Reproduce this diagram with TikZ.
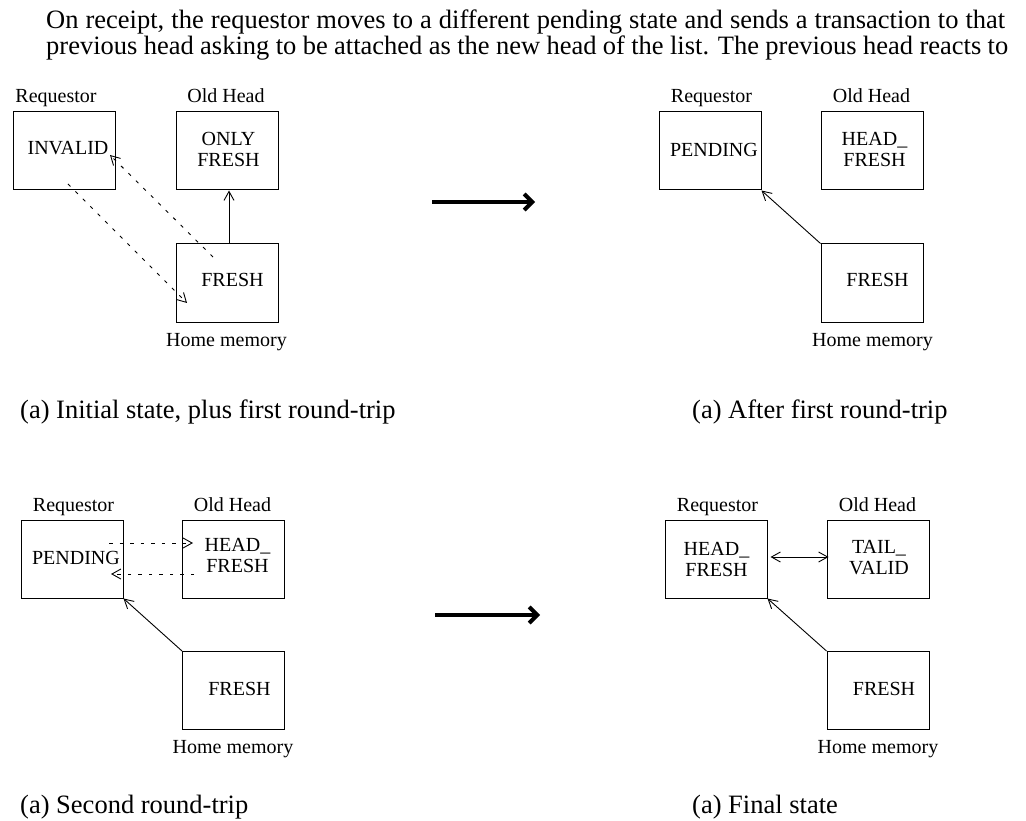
\documentclass[tikz,border=0pt]{standalone}
\usepackage{fontspec}
\setmainfont{Liberation Serif}
\usetikzlibrary{arrows.meta}
\begin{document}
\begin{tikzpicture}[x=1pt,y=-1pt,
  box/.style={draw, line width=1pt, minimum width=102pt, minimum height=78pt, inner sep=0pt},
  lbl/.style={font=\fontsize{20}{21}\selectfont, inner sep=0pt, anchor=base},
  txt/.style={font=\fontsize{20}{21}\selectfont, inner sep=0pt, align=center},
  conn/.style={line width=0.9pt, -{Straight Barb[length=9pt,width=10pt]}},
  dconn/.style={conn, dash pattern=on 3.5pt off 7pt},
  dbl/.style={line width=0.9pt, {Straight Barb[length=9pt,width=10pt]}-{Straight Barb[length=9pt,width=10pt]}},
  big/.style={line width=4pt, -{Straight Barb[length=8pt,width=16pt]}},
  bodytxt/.style={font=\fontsize{26.5}{30}\selectfont, inner sep=0pt, anchor=base west},
  captxt/.style={font=\fontsize{26.5}{30}\selectfont, inner sep=0pt, anchor=base west}]
\useasboundingbox (0,0) rectangle (1026,821);

% body text
\node[bodytxt] (l1) at (46,29) {\makebox[959pt][s]{On receipt, the requestor moves to a different pending state and sends a transaction to that}};
\node[bodytxt] (l2) at (46,55) {\makebox[962pt][s]{previous head asking to be attached as the new head of the list. The previous head reacts to}};

% ---------- panel 1 ----------
\node[box] (r1) at (64.5,151) {};
\node[box] (o1) at (227,151) {};
\node[box] (h1) at (227,283) {};
\node[lbl] (r1l) at (56,103) {Requestor};
\node[lbl] (o1l) at (226,103) {Old Head};
\node[lbl] (h1l) at (226.5,346) {Home memory};
\node[txt, anchor=base] (r1t) at (68,155) {INVALID};
\node[txt] (o1t) at (228.5,149) {ONLY\\FRESH};
\node[txt, anchor=base] (h1t) at (232.5,287) {FRESH};
\draw[conn] ([xshift=2pt]h1.north) -- ([xshift=2pt]o1.south);
\coordinate (a1) at (68,184);
\coordinate (a2) at (187,303);
\coordinate (b1) at (213,257);
\coordinate (b2) at (110,155);
\draw[dconn] (a1) -- (a2);
\draw[dconn] (b1) -- (b2);

% ---------- panel 2 ----------
\node[box] (r2) at (710,151) {};
\node[box] (o2) at (872,151) {};
\node[box] (h2) at (872,283) {};
\node[lbl] (r2l) at (711.5,103) {Requestor};
\node[lbl] (o2l) at (871.5,103) {Old Head};
\node[lbl] (h2l) at (872.5,346) {Home memory};
\node[txt, anchor=base] (r2t) at (714,157) {PENDING};
\node[txt] (o2t) at (874.5,149.5) {HEAD\_\\FRESH};
\node[txt, anchor=base] (h2t) at (877.5,287) {FRESH};
\draw[conn] (h2.north west) -- (r2.south east);

% ---------- panel 3 ----------
\node[box] (r3) at (72,559) {};
\node[box] (o3) at (233.5,559) {};
\node[box] (h3) at (233.5,690.5) {};
\node[lbl] (r3l) at (73.5,511) {Requestor};
\node[lbl] (o3l) at (232.5,511) {Old Head};
\node[lbl] (h3l) at (233,753) {Home memory};
\node[txt, anchor=base] (r3t) at (76,564) {PENDING};
\node[txt] (o3t) at (237.5,555.5) {HEAD\_\\FRESH};
\node[txt, anchor=base] (h3t) at (239.5,695) {FRESH};
\draw[conn] (h3.north west) -- (r3.south east);
\coordinate (c1) at (109,543);
\coordinate (c2) at (193,543);
\coordinate (d1) at (194,574);
\coordinate (d2) at (111,574);
\draw[dconn] (c1) -- (c2);
\draw[dconn] (d1) -- (d2);

% ---------- panel 4 ----------
\node[box] (r4) at (716,559) {};
\node[box] (o4) at (878,559) {};
\node[box] (h4) at (878,690.5) {};
\node[lbl] (r4l) at (717.5,511) {Requestor};
\node[lbl] (o4l) at (877.5,511) {Old Head};
\node[lbl] (h4l) at (878,753) {Home memory};
\node[txt] (r4t) at (716.5,559.5) {HEAD\_\\FRESH};
\node[txt] (o4t) at (879,557.5) {TAIL\_\\VALID};
\node[txt, anchor=base] (h4t) at (884,695) {FRESH};
\draw[conn] (h4.north west) -- (r4.south east);
\draw[dbl] ([xshift=3pt,yshift=2pt]r4.east) -- ([xshift=2pt,yshift=2pt]o4.west);

% ---------- big arrows ----------
\coordinate (t1) at (432,202);
\coordinate (t2) at (535,202);
\coordinate (u1) at (435,615);
\coordinate (u2) at (540,615);
\draw[big] (t1) -- (t2);
\draw[big] (u1) -- (u2);

% ---------- captions ----------
\node[captxt] (cap1) at (20,418) {(a) Initial state, plus first round-trip};
\node[captxt] (cap2) at (692,418) {(a) After first round-trip};
\node[captxt] (cap3) at (20,813) {(a) Second round-trip};
\node[captxt] (cap4) at (692,813) {(a) Final state};
\end{tikzpicture}
\end{document}
